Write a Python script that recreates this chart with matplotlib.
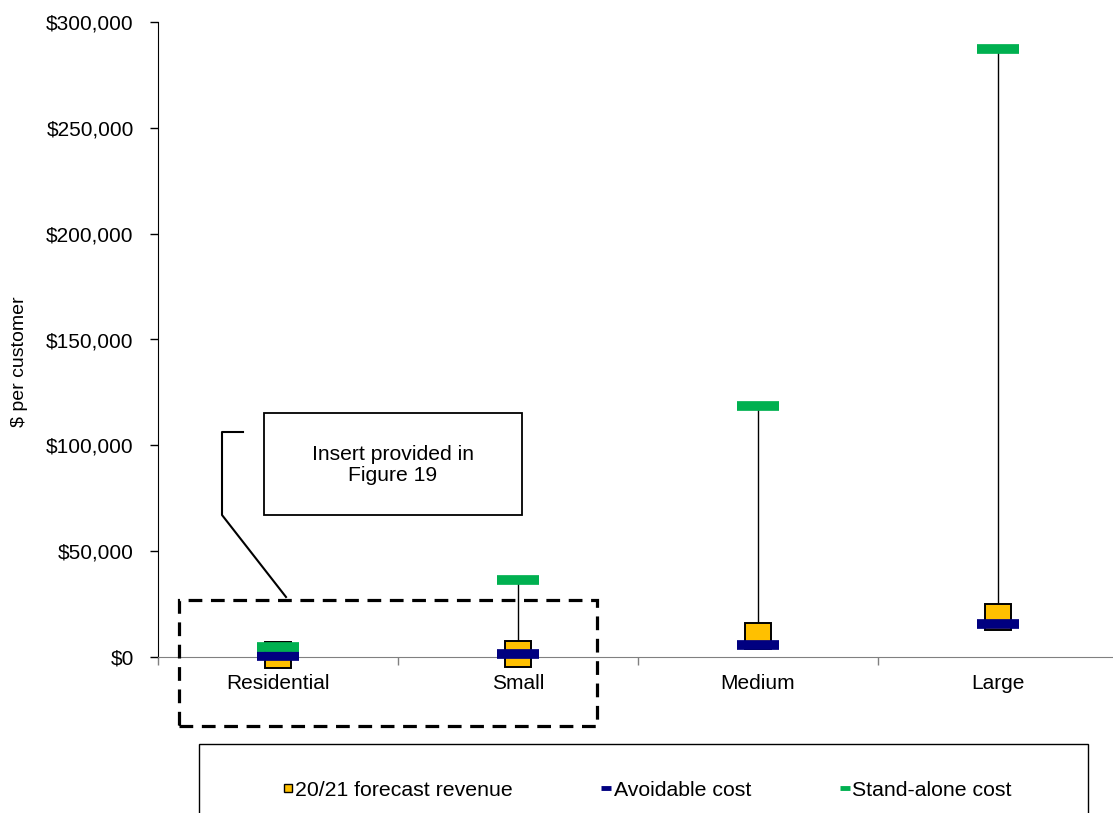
import matplotlib
matplotlib.use('Agg')
import matplotlib.pyplot as plt
from matplotlib.patches import Rectangle
from matplotlib.lines import Line2D
from matplotlib.ticker import FuncFormatter

plt.rcParams['font.family'] = ['Liberation Sans', 'DejaVu Sans']

# $ per customer by customer class
categories = ['Residential', 'Small', 'Medium', 'Large']
revenue = [800, 1500, 9900, 19100]          # 20/21 forecast revenue
avoidable = [500, 1270, 5900, 15600]        # avoidable cost
standalone = [4500, 36400, 118600, 287200]  # stand-alone cost

YELLOW = '#FFC000'
NAVY = '#000080'
GREEN = '#00B050'

W, H = 1113, 813
fig = plt.figure(figsize=(W / 100, H / 100), dpi=100)


def fx(px):
    return px / W


def fy(py):
    return 1 - py / H


# plot area: left axis at x=158, $0 at y=657, $300k at y=22, 240 px per category
ax = fig.add_axes([fx(158), fy(657), 960 / W, 635 / H])
x = list(range(len(categories)))

# high-low lines between avoidable and stand-alone cost
ax.vlines(x, avoidable, standalone, color='black', lw=1, zorder=2)
ax.plot(x, revenue, ls='none', marker='s', ms=19, mfc=YELLOW, mec='black',
        mew=1.4, zorder=3, clip_on=False)
ax.plot(x, avoidable, ls='none', marker='_', ms=30, mew=7, color=NAVY,
        zorder=4, clip_on=False)
ax.plot(x, standalone, ls='none', marker='_', ms=30, mew=7, color=GREEN,
        zorder=5, clip_on=False)

ax.set_xlim(-0.5, 3.5)
ax.set_ylim(0, 300000)
ax.set_yticks(range(0, 300001, 50000))
ax.yaxis.set_major_formatter(FuncFormatter(lambda v, p: f'${v:,.0f}'))
ax.tick_params(axis='y', direction='out', length=6, width=1, pad=11.5,
               labelsize=15)

# category boundaries carry the tick marks, labels sit on the centres
ax.set_xticks([-0.5, 0.5, 1.5, 2.5, 3.5])
ax.set_xticklabels([])
ax.set_xticks(x, minor=True)
ax.set_xticklabels(categories, minor=True)
ax.tick_params(axis='x', which='major', direction='out', length=6, width=1,
               color='#808080')
ax.tick_params(axis='x', which='minor', length=0, pad=12.5, labelsize=15)

for s in ('top', 'right'):
    ax.spines[s].set_visible(False)
ax.spines['left'].set_color('black')
ax.spines['bottom'].set_color('#808080')
ax.patch.set_alpha(0)

fig.text(fx(20), fy(362), '$ per customer', rotation=90, ha='center',
         va='center', fontsize=14)

# callout pointing at the zoomed region
fig.add_artist(Rectangle((fx(179), fy(726)), fx(597 - 179), (726 - 600) / H,
                         fill=False, ec='black', lw=2.3, ls=(0, (4.3, 2.7)),
                         joinstyle='miter'))
fig.add_artist(Rectangle((fx(264), fy(515)), fx(522 - 264), (515 - 413) / H,
                         fill=False, ec='black', lw=1.3))
fig.text(fx(393), fy(465), 'Insert provided in\nFigure 19', ha='center',
         va='center', fontsize=15.2, linespacing=1.1)
fig.add_artist(Line2D([fx(243), fx(222), fx(222), fx(286)],
                      [fy(432), fy(432), fy(515), fy(597)],
                      color='black', lw=1.5))

# legend frame runs past the bottom edge
fig.add_artist(Rectangle((fx(199), fy(840)), fx(1088 - 199), (840 - 744) / H,
                         fill=False, ec='black', lw=1))
handles = [
    Line2D([], [], ls='none', marker='s', ms=6, mfc=YELLOW, mec='black', mew=1),
    Line2D([], [], ls='none', marker='_', ms=7, mew=3.5, color=NAVY),
    Line2D([], [], ls='none', marker='_', ms=7, mew=3.5, color=GREEN),
]
fig.legend(handles, ['20/21 forecast revenue', 'Avoidable cost', 'Stand-alone cost'],
           loc='center', bbox_to_anchor=(fx(647), fy(790)), ncol=3,
           frameon=False, fontsize=15.3, handlelength=0.5, handletextpad=0.1,
           columnspacing=4.15, borderpad=0)

fig.savefig('out.png', dpi=100)
